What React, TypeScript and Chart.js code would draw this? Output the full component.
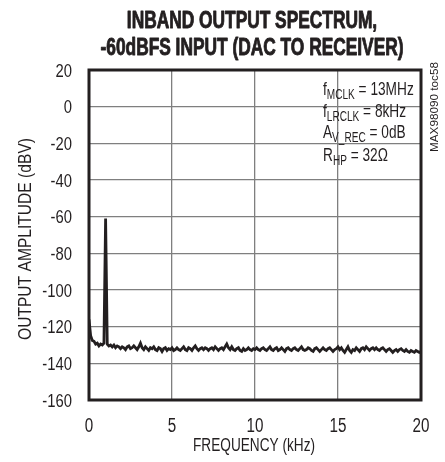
import React, { useEffect, useRef } from "react";
import { Chart, registerables } from "chart.js";

Chart.register(...registerables);

const TITLE_LINES = ["INBAND OUTPUT SPECTRUM,", "-60dBFS INPUT (DAC TO RECEIVER)"];
const X_TITLE = "FREQUENCY (kHz)";
const Y_TITLE = "OUTPUT AMPLITUDE (dBV)";
const X_MIN = 0;
const X_MAX = 20;
const X_STEP = 5;
const Y_MIN = -160;
const Y_MAX = 20;
const Y_STEP = 20;
const X_TICK_LABELS = ["0", "5", "10", "15", "20"];
const Y_TICK_LABELS = ["20", "0", "-20", "-40", "-60", "-80", "-100", "-120", "-140", "-160"];
const FREQ_START = 0;
const FREQ_STEP = 0.1; // kHz between samples
const AMPLITUDES: number[] = [
  -116, -125, -127.5, -128, -129.5, -129, -130.5, -129.5, -130, -129,
  -61, -129.5, -130.5, -130, -131, -130, -131.5, -130.5, -131, -132,
  -131, -131.5, -132.5, -131, -130.5, -132, -131.5, -130.5, -131.5, -132.5,
  -131, -129, -131.5, -132.5, -131, -132, -133, -131.5, -132, -131,
  -132.5, -133, -131.5, -132, -133.5, -132, -131.5, -133, -132, -132.5,
  -131.5, -133, -132.5, -131.5, -132.5, -133, -132, -131, -132.5, -133,
  -131.5, -132, -133, -131.5, -130.5, -132, -133, -132, -131.5, -132.5,
  -131.5, -132, -133, -132, -131.5, -132.5, -131, -132, -133, -132,
  -131.5, -132.5, -131, -129.5, -131.5, -132.5, -131, -132.5, -133, -132,
  -131.5, -133, -133.5, -132, -133, -132.5, -131.5, -132.5, -133, -132,
  -132.5, -131.5, -132.5, -133, -132, -131.5, -132.5, -133, -132, -131,
  -132.5, -133, -132, -131.5, -133, -132.5, -131.5, -132.5, -133.5, -132,
  -131.5, -132.5, -133, -132, -131.5, -132.5, -133, -132, -131, -132.5,
  -133, -132.5, -131.5, -132, -133, -133.5, -132, -131.5, -132.5, -133.5,
  -132.5, -131.5, -132.5, -133, -132, -131.5, -132.5, -133.5, -132.5, -132,
  -131, -132.5, -131.5, -133, -134, -132.5, -131, -133, -134, -132.5,
  -133, -131.5, -132.5, -133.5, -132, -131.5, -132.5, -131, -132, -133,
  -132, -131.5, -132.5, -131.5, -132.5, -133, -132, -131.5, -132.5, -133.5,
  -132.5, -132, -133, -134, -133, -132.5, -133.5, -132.5, -132, -133,
  -133.5, -132.5, -133.5, -134, -133, -133.5, -134, -133, -133.5, -134,
  -133.5,
];
const NOTE_LINES: { t: string; sub?: boolean }[][] = [
  [{ t: "f" }, { t: "MCLK", sub: true }, { t: " = 13MHz" }],
  [{ t: "f" }, { t: "LRCLK", sub: true }, { t: " = 8kHz" }],
  [{ t: "A" }, { t: "V_REC", sub: true }, { t: " = 0dB" }],
  [{ t: "R" }, { t: "HP", sub: true }, { t: " = 32Ω" }],
];
const SIDE_TAG = "MAX98090 toc58";

const FONT = "'Liberation Sans', Arial, sans-serif";
const INK = "#231f20";
const SX = 0.78; // horizontal condensing of text

function setFont(ctx: CanvasRenderingContext2D, size: number, bold = false) {
  ctx.font = `${bold ? "bold " : ""}${size}px ${FONT}`;
}

function drawText(
  ctx: CanvasRenderingContext2D,
  s: string,
  x: number,
  y: number,
  size: number,
  opts: { bold?: boolean; align?: "left" | "center" | "right"; sx?: number; stroke?: number } = {}
) {
  const sx = opts.sx ?? SX;
  ctx.save();
  setFont(ctx, size, opts.bold);
  const w = ctx.measureText(s).width * sx;
  const x0 = opts.align === "center" ? x - w / 2 : opts.align === "right" ? x - w : x;
  ctx.translate(x0, y);
  ctx.scale(sx, 1);
  ctx.textAlign = "left";
  ctx.textBaseline = "alphabetic";
  ctx.fillText(s, 0, 0);
  if (opts.stroke) {
    ctx.strokeStyle = ctx.fillStyle as string;
    ctx.lineWidth = opts.stroke;
    ctx.lineJoin = "round";
    ctx.strokeText(s, 0, 0);
  }
  ctx.restore();
  return w;
}

function fitScale(ctx: CanvasRenderingContext2D, s: string, size: number, target: number, bold = false) {
  ctx.save();
  setFont(ctx, size, bold);
  const w = ctx.measureText(s).width;
  ctx.restore();
  return target / w;
}

const decorPlugin = {
  id: "decor",
  afterDatasetsDraw(chart: any) {
    const { ctx, chartArea } = chart;
    const xs = chart.scales.x;
    const ys = chart.scales.y;
    ctx.save();
    ctx.fillStyle = INK;
    // frame
    ctx.strokeStyle = INK;
    ctx.lineWidth = 3;
    ctx.strokeRect(chartArea.left, chartArea.top, chartArea.right - chartArea.left, chartArea.bottom - chartArea.top);

    // title
    const tsx = fitScale(ctx, TITLE_LINES[1], 23, 303, true);
    drawText(ctx, TITLE_LINES[0], 252, 27.5, 23, { bold: true, align: "center", sx: tsx, stroke: 0.9 });
    drawText(ctx, TITLE_LINES[1], 252, 54.5, 23, { bold: true, align: "center", sx: tsx, stroke: 0.9 });

    // tick labels
    Y_TICK_LABELS.forEach((lab) => {
      const py = ys.getPixelForValue(Number(lab));
      drawText(ctx, lab, 72, py + 6.8, 19, { align: "right", sx: 0.78 });
    });
    X_TICK_LABELS.forEach((lab) => {
      const px = xs.getPixelForValue(Number(lab));
      drawText(ctx, lab, px, 431.5, 19.5, { align: "center", sx: 0.78 });
    });

    // axis titles
    const xtsx = fitScale(ctx, X_TITLE, 18.5, 122);
    drawText(ctx, X_TITLE, 254, 451, 18.5, { align: "center", sx: xtsx });
    ctx.save();
    ctx.translate(31, 239);
    ctx.rotate(-Math.PI / 2);
    const ytsx = fitScale(ctx, Y_TITLE, 18.5, 202);
    drawText(ctx, Y_TITLE, 0, 0, 18.5, { align: "center", sx: ytsx });
    ctx.restore();

    // notes
    const baseYs = [95, 116.5, 138, 160.5];
    NOTE_LINES.forEach((segs, i) => {
      let x = 323;
      segs.forEach((s) => {
        const w = drawText(ctx, s.t, x, baseYs[i] + (s.sub ? 4 : 0), s.sub ? 14 : 19, { sx: 0.72 });
        x += w;
      });
    });

    // side tag
    ctx.save();
    ctx.translate(437.5, 152);
    ctx.rotate(-Math.PI / 2);
    const ssx = fitScale(ctx, SIDE_TAG, 11, 90);
    drawText(ctx, SIDE_TAG, 0, 0, 11, { sx: ssx });
    ctx.restore();

    ctx.restore();
  },
};

export default function App() {
  const ref = useRef<HTMLCanvasElement>(null);
  useEffect(() => {
    if (!ref.current) return;
    const points = AMPLITUDES.map((y, i) => ({ x: FREQ_START + i * FREQ_STEP, y }));
    const chart = new Chart(ref.current, {
      type: "line",
      data: {
        datasets: [
          {
            data: points,
            borderColor: INK,
            borderWidth: 2.8,
            pointRadius: 0,
            tension: 0,
            fill: false,
          },
        ],
      },
      options: {
        animation: false,
        responsive: false,
        layout: { padding: { top: 70, right: 24, left: 0, bottom: 0 } },
        plugins: { legend: { display: false }, tooltip: { enabled: false }, title: { display: false } },
        scales: {
          x: {
            type: "linear",
            min: X_MIN,
            max: X_MAX,
            afterFit: (s: any) => { s.height = 62; },
            ticks: { stepSize: X_STEP, display: false },
            grid: { color: "#7f7f7f", lineWidth: 1.3, drawTicks: false },
            border: { display: false },
          },
          y: {
            min: Y_MIN,
            max: Y_MAX,
            afterFit: (s: any) => { s.width = 89; },
            ticks: { stepSize: Y_STEP, display: false },
            grid: { color: "#7f7f7f", lineWidth: 1.3, drawTicks: false },
            border: { display: false },
          },
        },
      },
      plugins: [decorPlugin],
    });
    return () => chart.destroy();
  }, []);
  return (
    <div style={{ position: "fixed", left: 0, top: 0, width: 445, height: 462, background: "#fff" }}>
      <canvas ref={ref} width={445} height={462} />
    </div>
  );
}
